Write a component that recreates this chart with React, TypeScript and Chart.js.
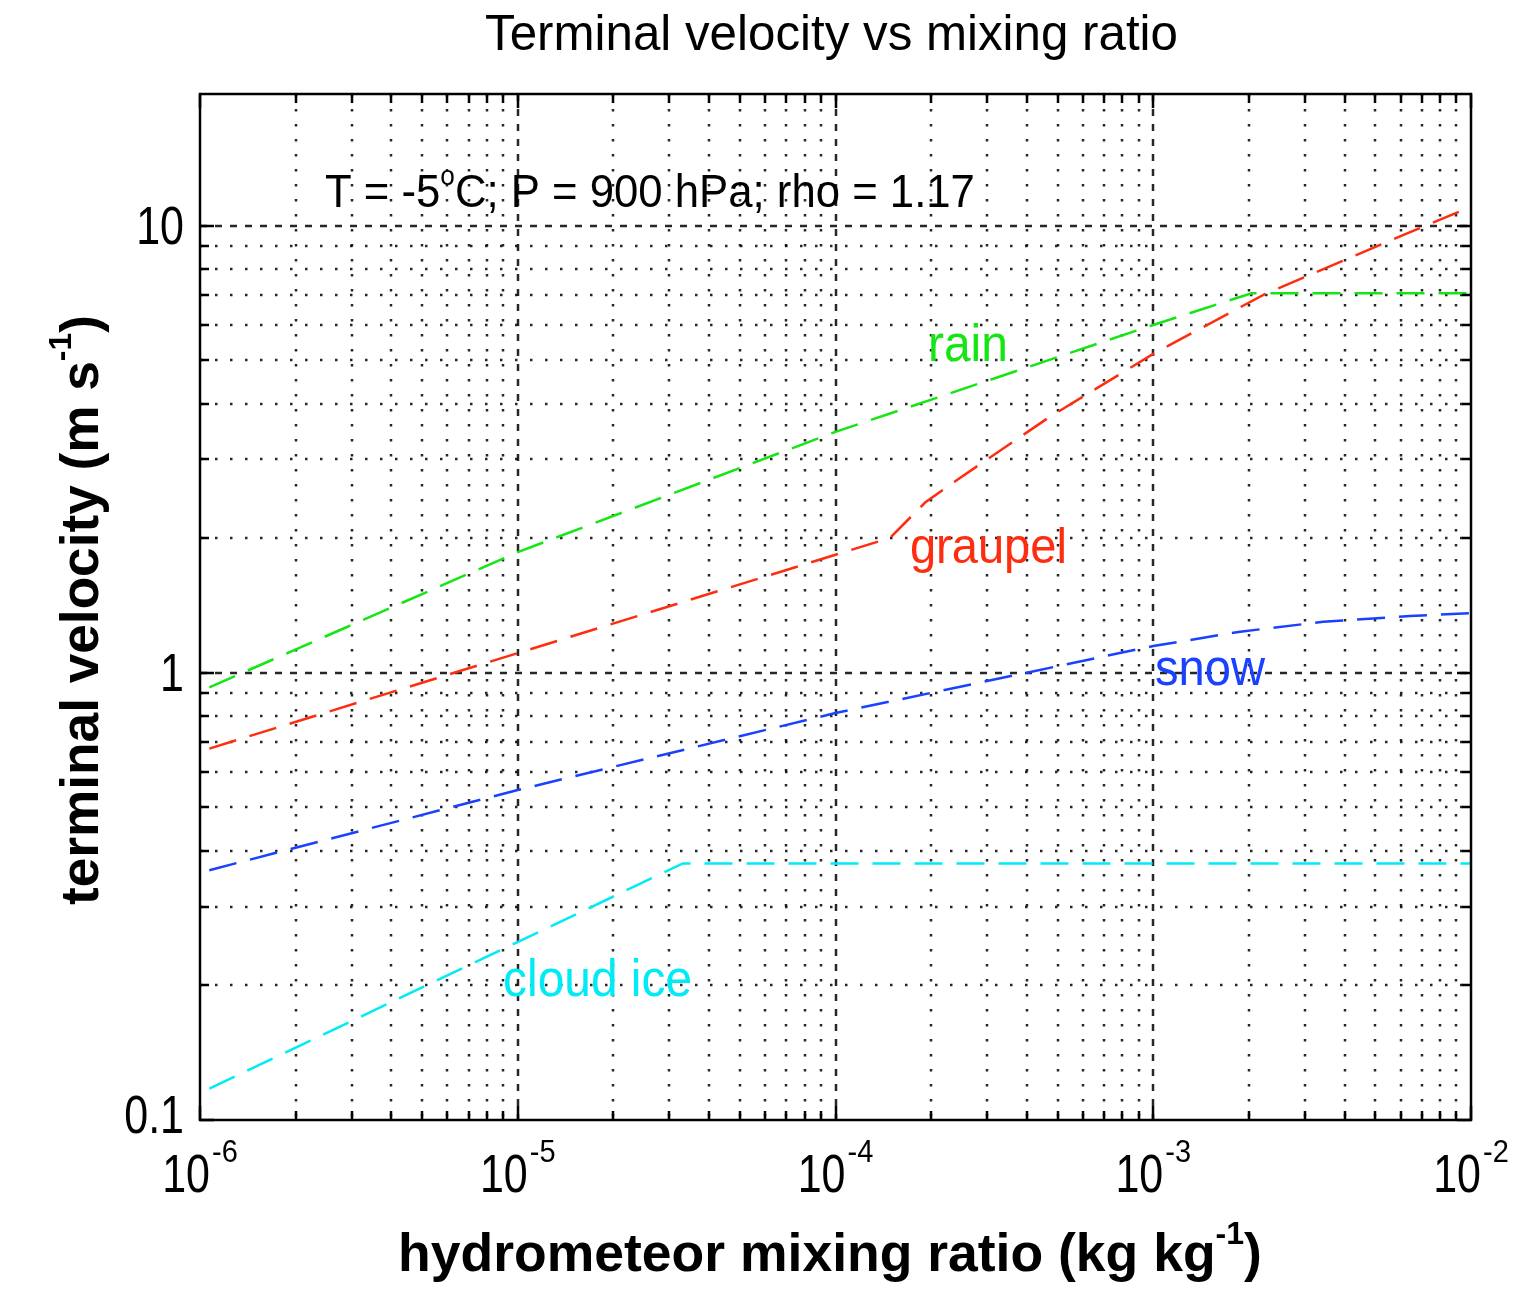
import React, { useEffect, useRef } from 'react';
import { Chart, registerables } from 'chart.js';

Chart.register(...registerables);

const FONT = '"Liberation Sans", Arial, Helvetica, sans-serif';

// Axis limits
const xMin = 1e-6;
const xMax = 1e-2;
const yMin = 0.1;
const yMax = 19.7;

// Series data
const rainX = [1.07e-6, 1e-5, 1e-4, 1e-3, 2.04e-3, 1e-2];
const rainY = [0.928, 1.862, 3.459, 5.998, 7.063, 7.063];

const graupelX = [1.07e-6, 1e-5, 1.484e-4, 1.914e-4, 2.412e-4, 4.73e-4, 1e-3, 2.252e-3, 6.43e-3, 1e-2];
const graupelY = [0.677, 1.107, 2.003, 2.403, 2.7, 3.739, 5.167, 7.04, 9.67, 11.02];

const snowX = [1.07e-6, 1e-5, 1e-4, 1e-3, 1.878e-3, 3.428e-3, 6.437e-3, 1e-2];
const snowY = [0.362, 0.547, 0.813, 1.148, 1.236, 1.301, 1.34, 1.359];

const iceX = [1.07e-6, 3.31e-5, 1e-2];
const iceY = [0.1175, 0.3748, 0.3748];

const seriesNames = ['rain', 'graupel', 'snow', 'cloud ice'];
const seriesColors = ['rgb(20,230,20)', 'rgb(255,45,15)', 'rgb(25,65,255)', 'rgb(0,235,245)'];
const seriesXs = [rainX, graupelX, snowX, iceX];
const seriesYs = [rainY, graupelY, snowY, iceY];

// Label anchors (data coordinates, left/baseline)
const labelX = [1.954e-4, 1.715e-4, 1.013e-3, 8.99e-6];
const labelY = [4.983, 1.76, 0.939, 0.1892];

// Tick labels
const xTickExponents = ['-6', '-5', '-4', '-3', '-2'];
const xTickValues = [1e-6, 1e-5, 1e-4, 1e-3, 1e-2];
const yTickLabels = ['0.1', '1', '10'];
const yTickValues = [0.1, 1, 10];

// Texts
type Part = { t: string; sup?: boolean };
const titleParts: Part[] = [{ t: 'Terminal velocity vs mixing ratio' }];
const xLabelParts: Part[] = [{ t: 'hydrometeor mixing ratio (kg kg' }, { t: '-1', sup: true }, { t: ')' }];
const yLabelParts: Part[] = [{ t: 'terminal velocity (m s' }, { t: '-1', sup: true }, { t: ')' }];
const noteParts: Part[] = [{ t: 'T = -5' }, { t: 'o', sup: true }, { t: 'C; P = 900 hPa; rho = 1.17' }];
const noteX = 2.474e-6;
const noteY = 11.02;

function fontStr(size: number, bold: boolean) {
  return `${bold ? 'bold ' : ''}${size}px ${FONT}`;
}

function partsWidth(ctx: CanvasRenderingContext2D, parts: Part[], size: number, bold: boolean) {
  let w = 0;
  for (const p of parts) {
    ctx.font = fontStr(p.sup ? size * 0.6 : size, bold);
    w += ctx.measureText(p.t).width;
  }
  return w;
}

function fitSize(ctx: CanvasRenderingContext2D, parts: Part[], target: number, bold: boolean) {
  return (100 * target) / partsWidth(ctx, parts, 100, bold);
}

function drawParts(
  ctx: CanvasRenderingContext2D,
  parts: Part[],
  x: number,
  y: number,
  size: number,
  bold: boolean,
  color: string,
  align: 'left' | 'center' | 'right',
  sy = 1
) {
  const w = partsWidth(ctx, parts, size, bold);
  let cx = align === 'center' ? x - w / 2 : align === 'right' ? x - w : x;
  ctx.save();
  ctx.fillStyle = color;
  ctx.textAlign = 'left';
  ctx.textBaseline = 'alphabetic';
  for (const p of parts) {
    const s = p.sup ? size * 0.6 : size;
    ctx.font = fontStr(s, bold);
    const yy = p.sup ? y - size * 0.5 : y;
    ctx.save();
    ctx.translate(cx, yy);
    ctx.scale(1, sy);
    ctx.fillText(p.t, 0, 0);
    ctx.restore();
    cx += ctx.measureText(p.t).width;
  }
  ctx.restore();
}

function gridValues(minExp: number, maxExp: number) {
  const vals: { v: number; major: boolean }[] = [];
  for (let e = minExp; e < maxExp; e++) {
    for (let k = 1; k <= 9; k++) vals.push({ v: k * Math.pow(10, e), major: k === 1 });
  }
  vals.push({ v: Math.pow(10, maxExp), major: true });
  return vals;
}

const decorPlugin = {
  id: 'decor',
  beforeDatasetsDraw(chart: any) {
    const { ctx, chartArea } = chart;
    const xs = chart.scales.x;
    const ys = chart.scales.y;
    const { left, right, top, bottom } = chartArea;
    ctx.save();
    ctx.strokeStyle = 'rgba(0,0,0,0.85)';
    ctx.lineWidth = 2.5;
    for (const g of gridValues(-6, -2)) {
      const px = Math.round(xs.getPixelForValue(g.v));
      if (px <= left + 1 || px >= right - 1) continue;
      ctx.setLineDash(g.major ? [7, 8] : [2.5, 12.5]);
      ctx.beginPath();
      ctx.moveTo(px, top);
      ctx.lineTo(px, bottom);
      ctx.stroke();
    }
    for (const g of gridValues(-1, 1)) {
      const py = Math.round(ys.getPixelForValue(g.v));
      if (py <= top + 1 || py >= bottom - 1) continue;
      ctx.setLineDash(g.major ? [7, 8] : [2.5, 12.5]);
      ctx.beginPath();
      ctx.moveTo(left, py);
      ctx.lineTo(right, py);
      ctx.stroke();
    }
    ctx.restore();
  },
  afterDraw(chart: any) {
    const { ctx, chartArea } = chart;
    const xs = chart.scales.x;
    const ys = chart.scales.y;
    const { left, right, top, bottom } = chartArea;
    ctx.save();
    ctx.setLineDash([]);
    ctx.strokeStyle = '#000';
    ctx.lineWidth = 2.5;
    ctx.strokeRect(left, top, right - left, bottom - top);
    // inner ticks
    ctx.lineWidth = 2.5;
    for (const g of gridValues(-6, -2)) {
      const px = Math.round(xs.getPixelForValue(g.v));
      const len = g.major ? 14 : 9;
      ctx.beginPath();
      ctx.moveTo(px, bottom);
      ctx.lineTo(px, bottom - len);
      ctx.moveTo(px, top);
      ctx.lineTo(px, top + len);
      ctx.stroke();
    }
    for (const g of gridValues(-1, 1)) {
      const py = Math.round(ys.getPixelForValue(g.v));
      const len = g.major ? 14 : 9;
      ctx.beginPath();
      ctx.moveTo(left, py);
      ctx.lineTo(left + len, py);
      ctx.moveTo(right, py);
      ctx.lineTo(right - len, py);
      ctx.stroke();
    }
    ctx.restore();

    // x tick labels: 10^e
    xTickValues.forEach((v, i) => {
      const px = xs.getPixelForValue(v);
      ctx.font = fontStr(43, false);
      const wb = ctx.measureText('10').width;
      ctx.font = fontStr(29, false);
      const we = ctx.measureText(xTickExponents[i]).width;
      const gap = 2;
      const start = px - (wb + gap + we) / 2;
      drawParts(ctx, [{ t: '10' }], start, 1192, 43, false, '#000', 'left', 1.24);
      drawParts(ctx, [{ t: xTickExponents[i] }], start + wb + gap, 1162, 29, false, '#000', 'left', 1.06);
    });

    // y tick labels
    yTickValues.forEach((v, i) => {
      const py = ys.getPixelForValue(v);
      const by = i === 0 ? py + 13 : py + 18;
      drawParts(ctx, [{ t: yTickLabels[i] }], 184, by, 43, false, '#000', 'right', 1.24);
    });

    // title
    const ts = fitSize(ctx, titleParts, 693, false);
    drawParts(ctx, titleParts, (left + right) / 2 - 4, 50, ts, false, '#000', 'center');

    // x label
    const xl = fitSize(ctx, xLabelParts, 864, true);
    drawParts(ctx, xLabelParts, 830, 1271, xl, true, '#000', 'center');

    // y label (rotated)
    const yl = fitSize(ctx, yLabelParts, 590, true);
    ctx.save();
    ctx.translate(98, 610);
    ctx.rotate(-Math.PI / 2);
    drawParts(ctx, yLabelParts, 0, 0, yl, true, '#000', 'center');
    ctx.restore();

    // note
    const ns = fitSize(ctx, noteParts, 650, false);
    drawParts(ctx, noteParts, xs.getPixelForValue(noteX), ys.getPixelForValue(noteY), ns, false, '#000', 'left', 1.05);

    // series labels
    const targetW = [80, 157, 110, 189];
    seriesNames.forEach((name, i) => {
      const s = fitSize(ctx, [{ t: name }], targetW[i], false);
      drawParts(
        ctx,
        [{ t: name }],
        xs.getPixelForValue(labelX[i]),
        ys.getPixelForValue(labelY[i]),
        s,
        false,
        seriesColors[i],
        'left',
        1.08
      );
    });
  },
};

export default function App() {
  const ref = useRef<HTMLCanvasElement>(null);
  useEffect(() => {
    const canvas = ref.current;
    if (!canvas) return;
    const chart = new Chart(canvas, {
      type: 'line',
      data: {
        datasets: seriesNames.map((name, i) => ({
          label: name,
          data: seriesXs[i].map((x, j) => ({ x, y: seriesYs[i][j] })),
          borderColor: seriesColors[i],
          backgroundColor: seriesColors[i],
          borderWidth: 2.5,
          borderDash: [28, 14],
          pointRadius: 0,
          tension: 0,
          fill: false,
        })),
      },
      options: {
        animation: false,
        responsive: false,
        maintainAspectRatio: false,
        layout: { padding: { left: 200, top: 94, right: 49, bottom: 169 } },
        plugins: {
          legend: { display: false },
          tooltip: { enabled: false },
          title: { display: false },
        },
        scales: {
          x: { type: 'logarithmic', min: xMin, max: xMax, display: false },
          y: { type: 'logarithmic', min: yMin, max: yMax, display: false },
        },
      },
      plugins: [decorPlugin],
    } as any);
    return () => chart.destroy();
  }, []);
  return (
    <div style={{ position: 'fixed', left: 0, top: 0, width: 1520, height: 1289, background: '#fff' }}>
      <canvas ref={ref} width={1520} height={1289} style={{ width: 1520, height: 1289, display: 'block' }} />
    </div>
  );
}
